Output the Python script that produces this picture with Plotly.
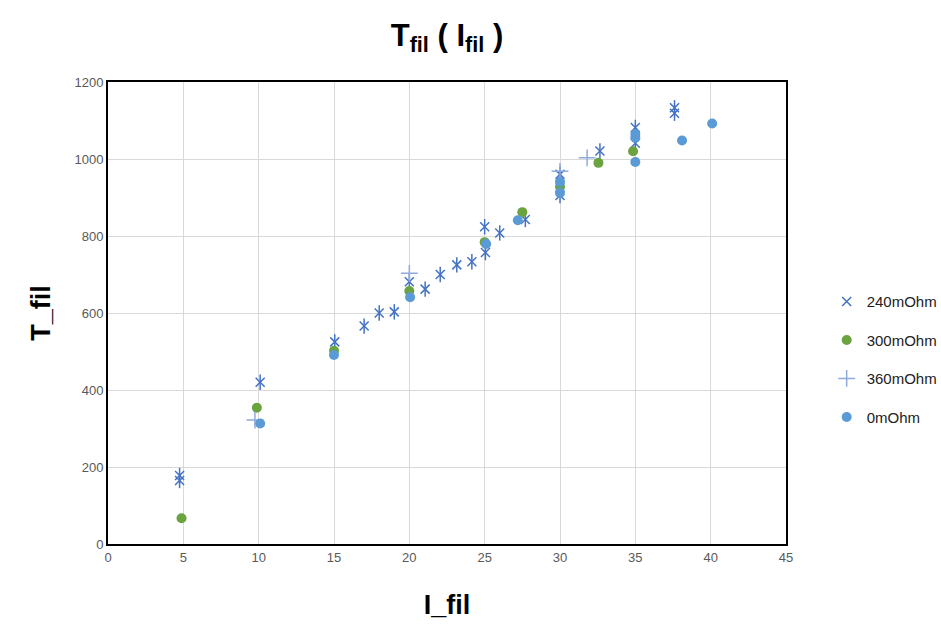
import plotly.graph_objects as go

# Filament temperature vs. filament current, four series resistances
i_240 = [4.75, 4.75, 10.1, 15.05, 17.0, 18.0, 19.0, 20.0, 21.05, 22.05, 23.15, 24.15,
         25.0, 25.05, 26.0, 27.7, 30.0, 30.0, 32.65, 35.0, 35.0, 37.6, 37.6]
t_240 = [178, 165, 420, 525, 566, 600, 603, 681, 662, 700, 725, 733,
         824, 757, 808, 843, 960, 905, 1021, 1082, 1041, 1133, 1119]

i_300 = [4.88, 9.88, 15.0, 20.0, 25.0, 27.5, 30.0, 32.55, 34.85]
t_300 = [67, 354, 502, 657, 784, 862, 928, 990, 1020]

i_360 = [9.75, 20.0, 30.0, 31.8]
t_360 = [322, 703, 968, 1003]

i_0 = [10.1, 15.0, 20.05, 25.1, 27.2, 30.0, 30.0, 35.0, 35.0, 35.0, 38.1, 40.1]
t_0 = [313, 491, 641, 779, 841, 940, 912, 1065, 1055, 992, 1048, 1092]

series_names = ["240mOhm", "300mOhm", "360mOhm", "0mOhm"]
x_ticks = list(range(0, 46, 5))
y_ticks = list(range(0, 1201, 200))

C_240 = "#4472C4"
C_300 = "#6AA33F"
C_360 = "#8FAADC"
C_0 = "#5B9BD5"

fig = go.Figure()

# 240 mOhm: star marker built from an X plus a vertical stroke
fig.add_trace(go.Scatter(
    x=i_240, y=t_240, mode="markers", name=series_names[0], legendgroup="g240",
    marker=dict(symbol="x-thin-open", size=9, color=C_240, line=dict(color=C_240, width=1.5)),
))
fig.add_trace(go.Scatter(
    x=i_240, y=t_240, mode="markers", name=series_names[0], legendgroup="g240",
    showlegend=False, hoverinfo="skip",
    marker=dict(symbol="line-ns-open", size=11, color=C_240, line=dict(color=C_240, width=1.5)),
))
fig.add_trace(go.Scatter(
    x=i_300, y=t_300, mode="markers", name=series_names[1], legendgroup="g300",
    marker=dict(symbol="circle", size=10, color=C_300),
))
fig.add_trace(go.Scatter(
    x=i_360, y=t_360, mode="markers", name=series_names[2], legendgroup="g360",
    marker=dict(symbol="cross-thin-open", size=12, color=C_360, line=dict(color=C_360, width=1.5)),
))
fig.add_trace(go.Scatter(
    x=i_0, y=t_0, mode="markers", name=series_names[3], legendgroup="g0",
    marker=dict(symbol="circle", size=10, color=C_0),
))

tick_font = dict(family="Liberation Sans, Arial, sans-serif", size=13, color="#595959")
title_font = dict(family="Liberation Sans, Arial, sans-serif", size=27, color="#000000")

fig.update_layout(
    width=941, height=632,
    margin=dict(l=108, r=155, t=82, b=88, autoexpand=False),
    paper_bgcolor="white", plot_bgcolor="white",
    title=dict(text="<b>T<sub>fil</sub> ( I<sub>fil</sub> )</b>", x=0.5, xref="paper",
               y=0.945, yanchor="middle", font=dict(family="Liberation Sans, Arial, sans-serif",
                                                     size=31, color="#000000")),
    showlegend=True,
    legend=dict(x=1.06, xanchor="left", y=0.40, yanchor="middle",
                font=dict(family="Liberation Sans, Arial, sans-serif", size=15, color="#222"),
                tracegroupgap=16, bgcolor="rgba(0,0,0,0)"),
    xaxis=dict(range=[0, 45], tickvals=x_ticks, ticks="", showgrid=True,
               gridcolor="#D9D9D9", gridwidth=1, zeroline=False,
               showline=True, linecolor="#000", linewidth=2, mirror=True,
               tickfont=tick_font,
               title=dict(text="<b>I_fil</b>", font=title_font, standoff=32)),
    yaxis=dict(range=[0, 1200], tickvals=y_ticks, ticks="", showgrid=True,
               gridcolor="#D9D9D9", gridwidth=1, zeroline=False,
               showline=True, linecolor="#000", linewidth=2, mirror=True,
               tickfont=tick_font,
               title=dict(text="<b>T_fil</b>", font=title_font, standoff=16)),
)

fig.write_html("out.html")
